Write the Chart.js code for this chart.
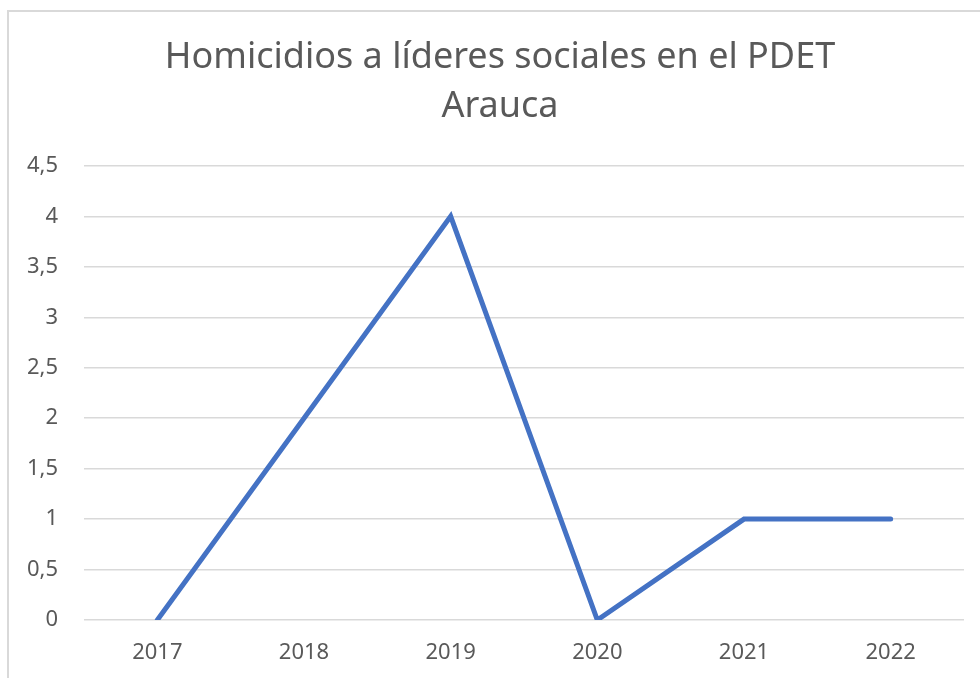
<!DOCTYPE html>
<html>
<head>
<meta charset="utf-8">
<script src="https://cdn.jsdelivr.net/npm/chart.js@4"></script>
<style>
  html, body { margin: 0; padding: 0; background: #fff; overflow: hidden; }
  #frame { position: absolute; left: 7px; top: 10px; width: 1200px; height: 900px;
           border-left: 2px solid #d9d9d9; border-top: 2px solid #d9d9d9; }
  #wrap { position: absolute; left: 0; top: 0; width: 980px; height: 678px; }
</style>
</head>
<body>
<div id="frame"></div>
<div id="wrap"><canvas id="myChart"></canvas></div>
<script>
// years and homicide counts
var years = ['2017', '2018', '2019', '2020', '2021', '2022'];
var homicidios = [0, 2, 4, 0, 1, 1];
var yTicks = [0, 0.5, 1, 1.5, 2, 2.5, 3, 3.5, 4, 4.5];

var textColor = '#595959';
var gridColor = '#d9d9d9';

// the title in the original sits a bit right of the canvas centre
var shiftTitle = {
    id: 'shiftTitle',
    afterLayout: function (chart) {
        if (chart.titleBlock) chart.titleBlock.left = 36;
    }
};

var ctx = document.getElementById('myChart').getContext('2d');

var myChart = new Chart(ctx, {
    type: 'line',
    data: {
        labels: years,
        datasets: [{
            label: 'Homicidios',
            data: homicidios,
            borderColor: '#4472c4',
            backgroundColor: '#4472c4',
            borderWidth: 5,
            borderCapStyle: 'round',
            borderJoinStyle: 'miter',
            pointRadius: 0,
            tension: 0
        }]
    },
    options: {
        responsive: true,
        maintainAspectRatio: false,
        animation: false,
        layout: { padding: { left: 0, right: 16, top: 0, bottom: 0 } },
        plugins: {
            legend: { display: false },
            tooltip: { enabled: false },
            title: {
                display: true,
                text: ['Homicidios a líderes sociales en el PDET', 'Arauca'],
                color: textColor,
                font: { family: 'Noto Sans', size: 36, weight: 'normal', lineHeight: 1.36 },
                padding: { top: 33.5, bottom: 34.5 }
            }
        },
        scales: {
            x: {
                offset: true,
                grid: { display: false },
                border: { display: false },
                ticks: {
                    color: textColor,
                    font: { family: 'Noto Sans', size: 22 },
                    padding: 12,
                    maxRotation: 0
                },
                afterFit: function (scale) { scale.height = 58; }
            },
            y: {
                min: 0,
                max: 4.5,
                afterBuildTicks: function (scale) {
                    scale.ticks = yTicks.map(function (v) { return { value: v }; });
                },
                grid: { color: gridColor, lineWidth: 1.5, drawTicks: false },
                border: { display: false },
                ticks: {
                    color: textColor,
                    font: { family: 'Noto Sans', size: 22 },
                    padding: 26,
                    callback: function (value) { return String(value).replace('.', ','); }
                },
                afterFit: function (scale) { scale.width = 84; }
            }
        }
    },
    plugins: [shiftTitle]
});
</script>
</body>
</html>
